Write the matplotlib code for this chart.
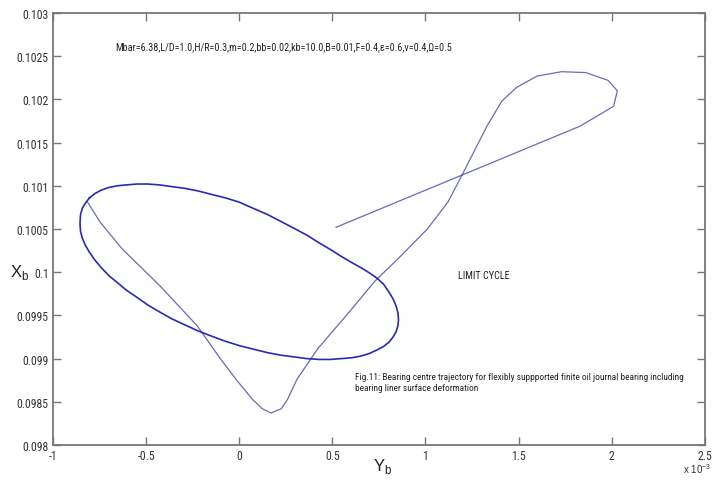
import matplotlib
matplotlib.use("Agg")
import matplotlib.pyplot as plt
from matplotlib import font_manager
from matplotlib.font_manager import FontProperties

# pick a narrow / condensed face if one exists
cond = None
pref = ["Liberation Sans Narrow", "Arial Narrow", "Roboto Condensed", "Open Sans Condensed",
        "Noto Sans", "DejaVu Sans", "Open Sans", "Roboto", "Lato"]
cands = [f for f in font_manager.fontManager.ttflist
         if (f.stretch in ("condensed", "semi-condensed", "extra-condensed")
             or "Narrow" in f.name or "Condensed" in f.name)
         and f.style == "normal" and f.weight in (400, "normal", "regular")]
for p in pref:
    for f in cands:
        if f.name == p:
            cond = f
            break
    if cond:
        break
if cond is None and cands:
    cond = cands[0]
if cond is not None:
    TXT = FontProperties(fname=cond.fname)
else:
    TXT = FontProperties(family=["Liberation Sans", "DejaVu Sans"])
plt.rcParams['font.family'] = ["Liberation Sans", "DejaVu Sans"]

# transient part of the trajectory (Y_b in 1e-3 units, X_b)
trans_y = [0.52, 1.83, 2.01, 2.03, 1.98, 1.86, 1.73, 1.60, 1.49, 1.41, 1.33, 1.20, 1.12, 1.01,
           0.85, 0.73, 0.575, 0.42, 0.31, 0.26, 0.226, 0.17, 0.124, 0.07, -0.01, -0.102,
           -0.226, -0.425, -0.629, -0.747, -0.817]
trans_x = [0.10052, 0.10169, 0.10192, 0.10210, 0.10222, 0.10231, 0.10232, 0.10227, 0.10214,
           0.10198, 0.10169, 0.10114, 0.10081, 0.10050, 0.10015, 0.09990, 0.09950, 0.09911,
           0.09876, 0.09853, 0.09842, 0.09837, 0.09842, 0.09853, 0.09874, 0.09900, 0.09938,
           0.09984, 0.10027, 0.10058, 0.10082]

# limit cycle, traversed clockwise from the top-left junction
cyc_y = [-0.804, -0.775, -0.740, -0.700, -0.655, -0.605, -0.550, -0.491, -0.428, -0.362,
         -0.292, -0.221, -0.149, -0.074, 0.0, 0.074, 0.149, 0.221, 0.292, 0.362, 0.428,
         0.491, 0.550, 0.605, 0.655, 0.700, 0.740, 0.775, 0.804, 0.826, 0.842, 0.852, 0.855,
         0.852, 0.842, 0.826, 0.804, 0.775, 0.740, 0.700, 0.655, 0.605, 0.550, 0.491, 0.428,
         0.362, 0.292, 0.221, 0.149, 0.074, 0.0, -0.074, -0.149, -0.221, -0.292, -0.362,
         -0.428, -0.491, -0.550, -0.605, -0.655, -0.700, -0.740, -0.775, -0.804, -0.826,
         -0.842, -0.852, -0.855, -0.852, -0.842, -0.826, -0.804]
cyc_x = [0.10086, 0.10091, 0.10095, 0.10098, 0.10100, 0.10101, 0.10102, 0.10102, 0.10101,
         0.10099, 0.10097, 0.10094, 0.10090, 0.10086, 0.10081, 0.10074, 0.10067, 0.10059,
         0.10051, 0.10043, 0.10034, 0.10026, 0.10018, 0.10011, 0.10005, 0.09999, 0.09993,
         0.09986, 0.09977, 0.09969, 0.09961, 0.09953, 0.09945, 0.09938, 0.09931, 0.09925,
         0.09919, 0.09914, 0.09910, 0.09906, 0.09903, 0.09901, 0.09900, 0.09899, 0.09899,
         0.09900, 0.09902, 0.09904, 0.09907, 0.09911, 0.09915, 0.09920, 0.09926, 0.09932,
         0.09939, 0.09946, 0.09954, 0.09962, 0.09971, 0.09979, 0.09988, 0.09996, 0.10005,
         0.10014, 0.10023, 0.10031, 0.10039, 0.10047, 0.10056, 0.10067, 0.10074, 0.10080,
         0.10086]

xticks = [-1, -0.5, 0, 0.5, 1, 1.5, 2, 2.5]
xtick_labels = ["-1", "-0.5", "0", "0.5", "1", "1.5", "2", "2.5"]
yticks = [0.098, 0.0985, 0.099, 0.0995, 0.1, 0.1005, 0.101, 0.1015, 0.102, 0.1025, 0.103]
ytick_labels = ["0.098", "0.0985", "0.099", "0.0995", "0.1", "0.1005", "0.101", "0.1015",
                "0.102", "0.1025", "0.103"]

params_text = "Mbar=6.38,L/D=1.0,H/R=0.3,m=0.2,bb=0.02,kb=10.0,B=0.01,F=0.4,\u03b5=0.6,\u03bd=0.4,\u03a9=0.5"
caption = ("Fig.11: Bearing centre trajectory for flexibly suppported finite oil journal bearing including\n"
           "bearing liner surface deformation")

fig = plt.figure(figsize=(7.2, 4.81), dpi=100)
ax = fig.add_axes([0.0736, 0.0728, 0.9054, 0.8982])

ax.plot(trans_y, trans_x, color="#6a6ab8", lw=0.9)
ax.plot(cyc_y, cyc_x, color="#2a2ab4", lw=1.2)

ax.set_xlim(-1, 2.5)
ax.set_ylim(0.098, 0.103)
ax.set_xticks(xticks)
ax.set_xticklabels(xtick_labels)
ax.set_yticks(yticks)
ax.set_yticklabels(ytick_labels)
gray = "#777777"
ax.tick_params(direction="in", length=6, width=1, color=gray, labelcolor="#333333",
               labelsize=8, top=True, right=True, pad=3)
for lab in ax.get_xticklabels() + ax.get_yticklabels():
    lab.set_fontproperties(TXT)
    lab.set_fontsize(8.5)
for s in ax.spines.values():
    s.set_color(gray)
    s.set_linewidth(1.3)

t1 = ax.text(-0.667, 0.10261, params_text, fontproperties=TXT, fontsize=8, color="#222222",
             va="center", ha="left")
t2 = ax.text(1.177, 0.09997, "LIMIT CYCLE", fontproperties=TXT, fontsize=8.5, color="#222222",
             va="center", ha="left")
t3 = ax.text(0.624, 0.09873, caption, fontproperties=TXT, fontsize=8.5, color="#222222",
             va="center", ha="left", linespacing=1.2)

# fit texts to their widths in the reference
fig.canvas.draw()
r = fig.canvas.get_renderer()
for t, w in [(t1, 332), (t2, 52), (t3, 330)]:
    for _ in range(3):
        cur = t.get_window_extent(r).width
        t.set_fontsize(t.get_fontsize() * w / cur)

fig.text(20 / 720, 1 - 272 / 481, "X$_\\mathregular{b}$", fontsize=12, color="#222222",
         ha="center", va="center")
fig.text(383 / 720, 1 - 466 / 481, "Y$_\\mathregular{b}$", fontsize=12, color="#222222",
         ha="center", va="center")
fig.text(697 / 720, 1 - 469 / 481, "x 10$^\\mathregular{-3}$", fontsize=7, color="#333333",
         ha="center", va="center")

fig.savefig("out.png", dpi=100, facecolor="white")
